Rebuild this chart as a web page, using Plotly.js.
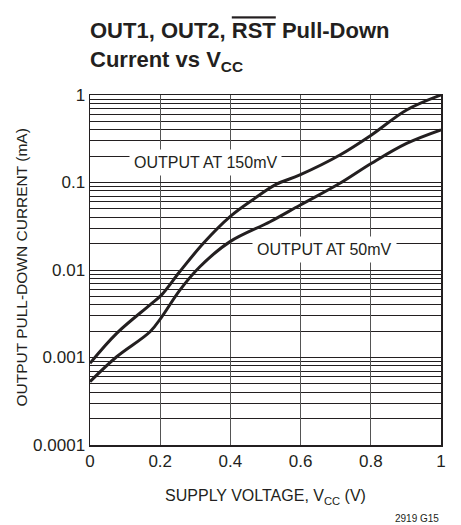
<!DOCTYPE html>
<html><head><meta charset="utf-8">
<script src="https://cdn.plot.ly/plotly-3.0.1.min.js"></script>
<style>body{margin:0;background:#fff}#c{width:461px;height:525px}</style>
</head><body><div id="c"></div>
<script>
const vcc150 = [0, 0.076, 0.171, 0.204, 0.256, 0.323, 0.399, 0.465, 0.53, 0.598, 0.712, 0.802, 0.902, 1.0];
const cur150 = [0.00086, 0.00189, 0.0040, 0.0052, 0.0096, 0.0202, 0.0407, 0.064, 0.095, 0.122, 0.206, 0.349, 0.674, 1.0];
const vcc50 = [0, 0.076, 0.171, 0.204, 0.256, 0.313, 0.399, 0.513, 0.598, 0.712, 0.802, 0.902, 1.0];
const cur50 = [0.00053, 0.00102, 0.00197, 0.0029, 0.0059, 0.0109, 0.0211, 0.0356, 0.055, 0.098, 0.166, 0.28, 0.40];
const yTickVals = [0.0001, 0.001, 0.01, 0.1, 1];
const yTickText = ['0.0001', '0.001', '0.01', '0.1', '1'];
const xTickVals = [0, 0.2, 0.4, 0.6, 0.8, 1];
const xTickText = ['0', '0.2', '0.4', '0.6', '0.8', '1'];

const F = "'Liberation Sans', Arial, sans-serif";
const ink = '#231f20';
const lineStyle = {color: ink, width: 3, shape: 'spline', smoothing: 1};

const traces = [
  {x: vcc150, y: cur150, mode: 'lines', line: lineStyle, hoverinfo: 'skip'},
  {x: vcc50, y: cur50, mode: 'lines', line: lineStyle, hoverinfo: 'skip'}
];

const layout = {
  width: 461, height: 525,
  margin: {l: 90, r: 20, t: 95, b: 80},
  paper_bgcolor: '#fff', plot_bgcolor: '#fff',
  showlegend: false,
  font: {family: F, color: ink, size: 16},
  title: {
    text: "<b>OUT1, OUT2, <span style='text-decoration:overline'>RST</span> Pull-Down<br>Current vs V<sub>CC</sub></b>",
    font: {family: F, size: 22, color: ink},
    x: 90/461, xanchor: 'left', y: 0.927, yanchor: 'top'
  },
  xaxis: {
    range: [0, 1], tickvals: xTickVals, ticktext: xTickText,
    showgrid: true, gridcolor: '#555', gridwidth: 1,
    zeroline: false, showline: true, linecolor: ink, linewidth: 1.5, mirror: true,
    ticks: '', tickfont: {size: 17},
    title: {text: 'SUPPLY VOLTAGE, V<sub>CC</sub> (V)', font: {size: 16}, standoff: 20}
  },
  yaxis: {
    type: 'log', range: [-4, 0], tickvals: yTickVals, ticktext: yTickText,
    showgrid: true, gridcolor: ink, gridwidth: 1,
    minor: {dtick: 'D1', showgrid: true, gridcolor: ink, gridwidth: 1, ticks: ''},
    zeroline: false, showline: true, linecolor: ink, linewidth: 1.5, mirror: true,
    ticks: '', tickfont: {size: 17}
  },
  annotations: [
    {x: -0.1937, y: 0.507, xref: 'paper', yref: 'paper', text: 'OUTPUT PULL-DOWN CURRENT (mA)',
     textangle: -90, showarrow: false, xanchor: 'center', yanchor: 'middle', font: {size: 15.5}},
    {x: 0.33, y: Math.log10(0.17), xref: 'x', yref: 'y', text: 'OUTPUT AT 150mV', showarrow: false,
     bgcolor: '#fff', borderpad: 4, font: {size: 16}},
    {x: 0.668, y: Math.log10(0.017), xref: 'x', yref: 'y', text: 'OUTPUT AT 50mV', showarrow: false,
     bgcolor: '#fff', borderpad: 4, font: {size: 16}},
    {x: 1.0, y: -0.211, xref: 'paper', yref: 'paper', text: '2919 G15', showarrow: false,
     font: {size: 10}, xanchor: 'right', yanchor: 'middle'}
  ]
};

Plotly.newPlot('c', traces, layout, {displayModeBar: false, staticPlot: true});
</script></body></html>
